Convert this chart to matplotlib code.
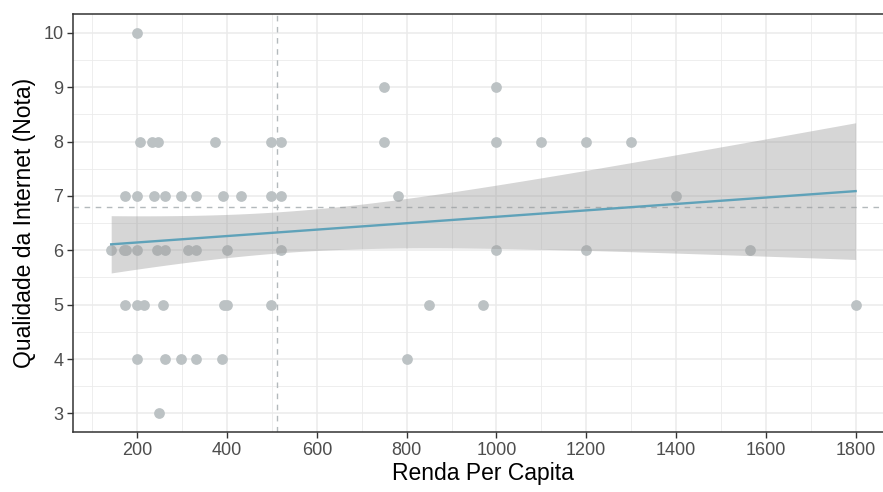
import matplotlib
matplotlib.use("Agg")
import matplotlib.pyplot as plt
from matplotlib.ticker import MultipleLocator
import numpy as np

plt.rcParams['font.family'] = ['Liberation Sans', 'DejaVu Sans']

# renda per capita (x) and internet quality score (y)
renda = np.array([
    200,
    206, 233, 247, 374, 497, 520,
    173, 200, 238, 262, 298, 330, 392, 432, 497, 520,
    142, 170, 176, 200, 245, 262, 312, 331, 400, 520,
    173, 200, 214, 257, 394, 400, 497,
    200, 262, 298, 330, 389,
    248,
    750, 1000,
    750, 1000, 1100, 1200, 1300,
    780, 1400,
    1000, 1200, 1565,
    850, 970, 1800,
    800,
])
nota = np.array([
    10,
    8, 8, 8, 8, 8, 8,
    7, 7, 7, 7, 7, 7, 7, 7, 7, 7,
    6, 6, 6, 6, 6, 6, 6, 6, 6, 6,
    5, 5, 5, 5, 5, 5, 5,
    4, 4, 4, 4, 4,
    3,
    9, 9,
    8, 8, 8, 8, 8,
    7, 7,
    6, 6, 6,
    5, 5, 5,
    4,
])
ref_x = 512
ref_y = 6.8

fig = plt.figure(figsize=(8.83, 4.92), dpi=100)
# panel runs past the right edge of the image, like the reference crop
ax = fig.add_axes([0.0827, 0.121, 0.9285, 0.851])

# linear fit with confidence band
n = len(renda)
slope, intercept = np.polyfit(renda, nota, 1)
xs = np.linspace(renda.min(), renda.max(), 200)
fit = intercept + slope * xs
resid = nota - (intercept + slope * renda)
s = np.sqrt(np.sum(resid ** 2) / (n - 2))
se = s * np.sqrt(1 / n + (xs - renda.mean()) ** 2 / np.sum((renda - renda.mean()) ** 2))
t = 1.87

ax.scatter(renda, nota, s=60, color="#bcc2c4", zorder=2, linewidths=0)
ax.fill_between(xs, fit - t * se, fit + t * se, color="#999999", alpha=0.4, lw=0, zorder=3)
ax.plot(xs, fit, color="#5fa2b9", lw=1.7, zorder=4)

ax.axvline(ref_x, color="#b3b9bc", ls=(0, (4, 4)), lw=1, zorder=1.5)
ax.axhline(ref_y, color="#b3b9bc", ls=(0, (4, 4)), lw=1, zorder=1.5)

ax.set_xlim(57, 1883)
ax.set_ylim(2.65, 10.35)
ax.xaxis.set_major_locator(MultipleLocator(200))
ax.xaxis.set_minor_locator(MultipleLocator(100))
ax.yaxis.set_major_locator(MultipleLocator(1))
ax.yaxis.set_minor_locator(MultipleLocator(0.5))
ax.grid(which="major", color="#ebebeb", lw=1.1, zorder=0)
ax.grid(which="minor", color="#ebebeb", lw=0.6, zorder=0)
ax.set_axisbelow(True)

for sp in ax.spines.values():
    sp.set_color("#333333")
    sp.set_linewidth(1.1)
ax.tick_params(which="major", length=4.5, width=1, color="#333333",
               labelcolor="#4d4d4d", labelsize=13, pad=2.5)
ax.tick_params(which="minor", length=0)

ax.set_xlabel("Renda Per Capita", fontsize=16.5, labelpad=2)
ax.set_ylabel("Qualidade da Internet (Nota)", fontsize=16.5, labelpad=5)

fig.savefig("out.png", dpi=100)
